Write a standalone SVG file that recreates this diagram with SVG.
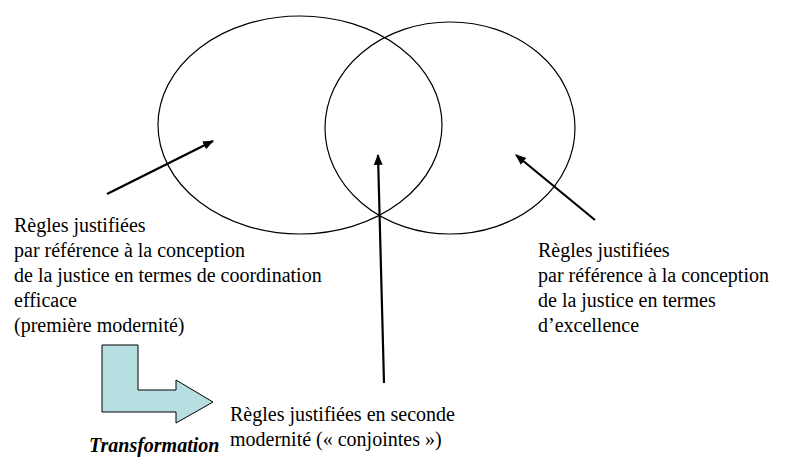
<svg xmlns="http://www.w3.org/2000/svg" width="787" height="457" viewBox="0 0 787 457">
<style>
.t{font-family:"Liberation Serif","Times New Roman",serif;font-size:20px;fill:#000}
.ti{font-family:"Liberation Serif","Times New Roman",serif;font-size:20px;font-weight:bold;font-style:italic;fill:#000}
.e{fill:none;stroke:#000;stroke-width:1.2}
.c{stroke:#000;stroke-width:2.2;fill:none;marker-end:url(#ah)}
</style>
<defs>
<marker id="ah" viewBox="0 0 10 10" refX="9" refY="5" markerWidth="5" markerHeight="5" markerUnits="strokeWidth" orient="auto">
<path d="M0,1 L10,5 L0,9 z" fill="#000"/>
</marker>
</defs>
<rect width="787" height="457" fill="#fff"/>
<g id="ellipse-left"><ellipse class="e" cx="300" cy="125" rx="142" ry="109"/></g>
<g id="ellipse-right"><ellipse class="e" cx="450" cy="128" rx="125" ry="106"/></g>
<g id="connectors">
<line class="c" x1="107" y1="194" x2="213" y2="141"/>
<line class="c" x1="384" y1="383" x2="378" y2="155"/>
<line class="c" x1="595" y1="220" x2="516" y2="155"/>
</g>
<g id="label-left">
<text class="t" x="14" y="232">Règles justifiées</text>
<text class="t" x="14" y="257">par référence à la conception</text>
<text class="t" x="14" y="282">de la justice en termes de coordination</text>
<text class="t" x="14" y="307">efficace</text>
<text class="t" x="14" y="332">(première modernité)</text>
</g>
<g id="label-right">
<text class="t" x="538" y="257">Règles justifiées</text>
<text class="t" x="538" y="282">par référence à la conception</text>
<text class="t" x="538" y="307">de la justice en termes</text>
<text class="t" x="538" y="332">d’excellence</text>
</g>
<g id="label-center">
<text class="t" x="230" y="421">Règles justifiées en seconde</text>
<text class="t" x="230" y="446">modernité (« conjointes »)</text>
</g>
<g id="transformation">
<polygon points="102,345 138,345 138,390 176,390 176,380 213,402 176,423 176,412 102,412" fill="#b7dee1" stroke="#000" stroke-width="1"/>
<text class="ti" x="89" y="452">Transformation</text>
</g>
</svg>
